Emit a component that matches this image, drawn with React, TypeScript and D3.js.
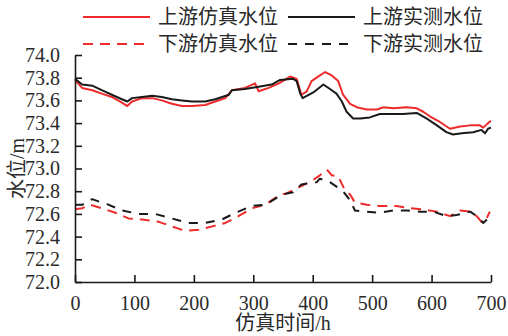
import React, { useEffect, useRef } from 'react';
import * as d3 from 'd3';

// upstream simulated (red solid)
const upSimT = [0, 12, 29, 45, 62, 79, 88, 96, 113, 130, 146, 163, 180, 197, 219, 236, 253, 264, 286, 303, 309, 326, 343, 362, 373, 381, 390, 398, 409, 421, 432, 443, 451, 463, 474, 491, 508, 519, 536, 558, 575, 586, 597, 614, 631, 648, 665, 681, 687, 695, 700];
const upSimV = [73.78, 73.71, 73.69, 73.66, 73.63, 73.58, 73.55, 73.59, 73.62, 73.62, 73.60, 73.57, 73.55, 73.55, 73.56, 73.59, 73.62, 73.69, 73.71, 73.75, 73.68, 73.71, 73.75, 73.81, 73.79, 73.65, 73.68, 73.77, 73.81, 73.85, 73.82, 73.77, 73.65, 73.57, 73.54, 73.52, 73.52, 73.54, 73.53, 73.54, 73.53, 73.50, 73.46, 73.41, 73.35, 73.37, 73.38, 73.38, 73.36, 73.40, 73.42];

// upstream measured (black solid)
const upMeasT = [0, 12, 29, 45, 62, 79, 88, 96, 113, 130, 146, 163, 180, 197, 219, 236, 259, 264, 286, 309, 331, 345, 367, 373, 379, 383, 390, 401, 418, 429, 440, 449, 457, 468, 480, 496, 513, 530, 552, 575, 592, 609, 625, 636, 651, 670, 684, 690, 695, 700];
const upMeasV = [73.79, 73.74, 73.73, 73.69, 73.65, 73.61, 73.59, 73.62, 73.63, 73.64, 73.63, 73.61, 73.60, 73.59, 73.59, 73.61, 73.65, 73.69, 73.70, 73.72, 73.74, 73.78, 73.79, 73.77, 73.66, 73.62, 73.64, 73.67, 73.74, 73.70, 73.66, 73.59, 73.50, 73.44, 73.44, 73.45, 73.48, 73.48, 73.48, 73.49, 73.44, 73.38, 73.32, 73.30, 73.31, 73.32, 73.34, 73.31, 73.35, 73.36];

// downstream simulated (red dashed)
const downSimT = [0, 12, 26, 45, 68, 90, 113, 141, 163, 186, 208, 231, 253, 275, 298, 320, 345, 356, 379, 401, 412, 424, 432, 443, 454, 463, 471, 491, 513, 541, 564, 586, 609, 631, 648, 665, 676, 684, 690, 698];
const downSimV = [72.64, 72.65, 72.68, 72.65, 72.61, 72.56, 72.55, 72.53, 72.49, 72.45, 72.46, 72.49, 72.52, 72.58, 72.65, 72.68, 72.77, 72.78, 72.84, 72.90, 72.94, 72.99, 72.94, 72.93, 72.81, 72.77, 72.70, 72.68, 72.67, 72.67, 72.65, 72.64, 72.62, 72.58, 72.63, 72.62, 72.58, 72.53, 72.53, 72.62];

// downstream measured (black dashed)
const downMeasT = [0, 12, 29, 45, 57, 79, 107, 135, 163, 191, 219, 247, 270, 298, 320, 348, 367, 381, 407, 412, 429, 440, 451, 463, 471, 491, 513, 536, 558, 581, 603, 625, 642, 665, 676, 687, 693];
const downMeasV = [72.68, 72.68, 72.73, 72.70, 72.68, 72.63, 72.60, 72.60, 72.56, 72.52, 72.52, 72.55, 72.61, 72.67, 72.68, 72.77, 72.79, 72.86, 72.88, 72.91, 72.88, 72.84, 72.80, 72.72, 72.63, 72.62, 72.61, 72.63, 72.63, 72.62, 72.62, 72.58, 72.59, 72.62, 72.58, 72.52, 72.55];

const xTicks = [0, 100, 200, 300, 400, 500, 600, 700];
const yTicks = [72.0, 72.2, 72.4, 72.6, 72.8, 73.0, 73.2, 73.4, 73.6, 73.8, 74.0];

const RED = '#ee2a2a';
const BLACK = '#1a1a1a';
const TEXT = '#2a2a2a';
const FONT = 'Liberation Serif, DejaVu Serif, Noto Sans CJK SC, serif';

const series = [
  { name: '上游仿真水位', t: upSimT, v: upSimV, color: RED, dash: null },
  { name: '上游实测水位', t: upMeasT, v: upMeasV, color: BLACK, dash: null },
  { name: '下游仿真水位', t: downSimT, v: downSimV, color: RED, dash: '10,7' },
  { name: '下游实测水位', t: downMeasT, v: downMeasV, color: BLACK, dash: '9,8' },
];

const App = () => {
  const svgRef = useRef<SVGSVGElement>(null);

  useEffect(() => {
    const root = d3.select(svgRef.current);
    root.selectAll('*').remove();

    const margin = { top: 55, left: 75 };
    const width = 416;
    const height = 227;

    const x = d3.scaleLinear().domain([0, 700]).range([0, width]);
    const y = d3.scaleLinear().domain([72, 74]).range([height, 0]);

    const g = root.append('g').attr('transform', `translate(${margin.left},${margin.top})`);

    // Lines
    const line = d3
      .line<[number, number]>()
      .x(d => x(d[0]))
      .y(d => y(d[1]));

    series.forEach(s => {
      const pts: [number, number][] = s.t.map((t, i) => [t, s.v[i]]);
      g.append('path')
        .datum(pts)
        .attr('fill', 'none')
        .attr('stroke', s.color)
        .attr('stroke-width', 2)
        .attr('stroke-dasharray', s.dash)
        .attr('stroke-linejoin', 'round')
        .attr('d', line);
    });

    // Axes
    const xAxis = g
      .append('g')
      .attr('transform', `translate(0,${height})`)
      .call(d3.axisBottom(x).tickValues(xTicks).tickSizeInner(-7).tickSizeOuter(0).tickPadding(14).tickFormat(d3.format('d')));

    const yAxis = g
      .append('g')
      .call(d3.axisLeft(y).tickValues(yTicks).tickSizeInner(-7).tickSizeOuter(0).tickPadding(15).tickFormat(d3.format('.1f')));

    [xAxis, yAxis].forEach(ax => {
      ax.attr('font-family', FONT).attr('font-size', 20);
      ax.selectAll('.domain, .tick line').attr('stroke', BLACK).attr('stroke-width', 1.6);
      ax.selectAll('text').attr('fill', TEXT);
    });

    // Axis titles
    root.append('text')
      .attr('x', margin.left + width / 2)
      .attr('y', 330)
      .attr('text-anchor', 'middle')
      .attr('fill', TEXT)
      .attr('font-family', FONT)
      .attr('font-size', 20)
      .text('仿真时间/h');

    root.append('text')
      .attr('transform', `translate(24,${margin.top + height / 2}) rotate(-90)`)
      .attr('text-anchor', 'middle')
      .attr('fill', TEXT)
      .attr('font-family', FONT)
      .attr('font-size', 20)
      .text('水位/m');

    // Legend
    const legendPos = [
      { x: 83, y: 17 },
      { x: 288, y: 17 },
      { x: 83, y: 44 },
      { x: 288, y: 44 },
    ];
    series.forEach((s, i) => {
      const p = legendPos[i];
      root.append('line')
        .attr('x1', p.x)
        .attr('x2', p.x + 67)
        .attr('y1', p.y)
        .attr('y2', p.y)
        .attr('stroke', s.color)
        .attr('stroke-width', 2)
        .attr('stroke-dasharray', s.dash);
      root.append('text')
        .attr('x', p.x + 75)
        .attr('y', p.y + 7)
        .attr('fill', TEXT)
        .attr('font-family', FONT)
        .attr('font-size', 20)
        .text(s.name);
    });
  }, []);

  return (
    <svg
      ref={svgRef}
      width={508}
      height={336}
      style={{ position: 'absolute', left: 0, top: 0, background: 'white' }}
    />
  );
};

export default App;
